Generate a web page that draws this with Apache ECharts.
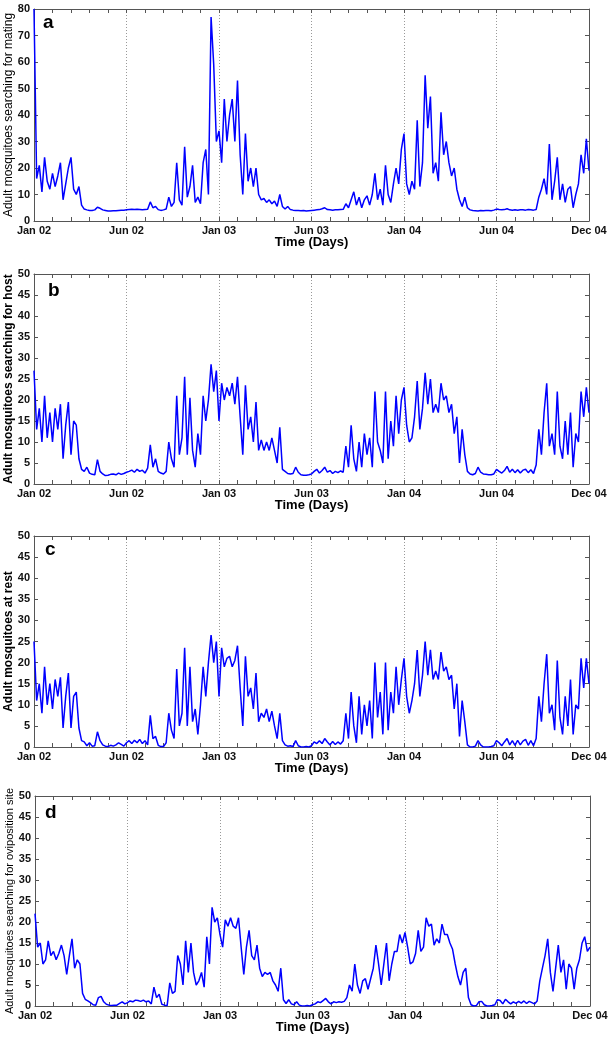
<!DOCTYPE html>
<html><head><meta charset="utf-8">
<script src="https://cdn.jsdelivr.net/npm/echarts@6/dist/echarts.min.js"></script>
<style>html,body{margin:0;padding:0;background:#fff}#c{width:612px;height:1038px}</style>
</head><body><div id="c"></div>
<script>
// sampling step in days between successive values
const STEP_DAYS = 5;
const X_MAX = 1050;
const X_INTERVAL = 175;
const xTickLabels = ['Jan 02','Jun 02','Jan 03','Jun 03','Jan 04','Jun 04','Dec 04'];

const mating = [
 80,16,21,11,24,15,12,18,13,17,22,8,14,20,24,12,10,13,6,4.5,4.2,4,4,4.2,5.2,4.8,4.2,4,3.8,3.8,3.9,3.9,4,4.1,4.1,
 4.2,4.3,4.4,4.3,4.4,4.3,4.2,4.3,4.4,7.2,5,5.5,4.3,4,4.2,4.5,9,5.5,7,22,8,6,28,9,13,21,7,9,6.5,22,27,10,77,59,30,
 34,22,46,30,40,46,30,53,25,10,33,15,20,13,20,10,8,8.5,7,8,6.5,7.5,5.5,10,5.5,4.5,5.5,4.3,4.1,4,4,3.9,4,3.8,3.9,
 4,4.1,4.2,4.3,4.6,5,4.3,4.2,4.1,4.2,4.2,4.3,4.4,6.5,5,8,11,6,9,5,8,9.5,6,10,18,8,12,6,21,10,7,14,20,14,27,
 33,14,10,15,12,38,13,22,55,35,47,18,22,15,41,25,30,22,17,20,12,8,5.5,9,5,4.2,4,3.9,3.8,4,3.9,4,4,3.9,4.1,
 4.5,4.3,4.2,4.3,4.6,4.2,4.1,4.2,4.1,4.2,4.2,4.1,4.3,4.2,4.1,4.3,9,12,16,10,29,8,15,24,8,14,7,12,13,5,10,14,25,18,31,19
];
const host = [
 27,13,18,10,21,11,17,10,18,13,19,6,14,19.5,7,15,14,6,3.5,3,4,2.6,2.3,2.2,5.8,3,2.4,2,2.1,2.3,2.4,2.2,2.6,2.3,2.5,
 2.8,3,3.3,2.8,3.5,3,3.3,2.6,3.8,9.3,4,6,3,2.6,2.4,3,10,6,4,21,7,11,25.5,7,20.5,8,4,12,7,21,15,20,28.5,22,27,
 15,24,20,23,21,24,19,25.5,16,7,23.5,13,16,10,19.5,8,10.5,8,10,8,11,8,5,13.5,3.5,3,2.5,2.4,2.5,4,2.8,2.2,2.1,2.1,2.2,
 2.4,3,3.5,2.6,3.2,4,2.8,3.2,2.5,3,2.7,3.1,2.8,9,4,14,6,3,10,4,12,7,11,4,22,10,8,5,22,6,15,9,21,12,20,
 23,14,10,11,16,24.5,13,18,26.5,19,25,17,19,17,24,20,21,17,19,12,16,5,13,7,3,2.4,2.2,2.5,4,2.8,2.4,2.3,2.2,2.2,2.4,
 3.5,3,2.6,3.2,4.2,2.8,3.5,2.7,3.4,2.6,3.3,3.5,2.7,3.4,2.5,4.5,13,7,17,24,9,12,7,22,9,6,15,7,17,4,12,10,22,16,23,17
];
const rest = [
 25,11,15,8,19,10,15,9,16,12,16.5,4.5,12,17.5,4.5,12,13,4.5,1.5,1.2,0.3,1,0.2,0.3,3.6,1.5,0.5,0.2,0.1,0.4,0.2,0.5,1,0.6,0.2,
 1,1.5,0.8,1.6,1,1.8,0.8,1.5,0.5,7.5,2,2.5,0.4,0.1,0.1,1,8,4,2,18.5,5,8,23.5,5,19,6,9,3,10,19,12,20,26.5,20,25,
 12,23.5,19,21,21.5,19,20.5,24,14,5,21.5,12,14,9,17.5,6,8,7,9,6,8.5,5,2,8,1.5,0.5,0.2,0.3,0.1,1.5,0.3,0,0,0.1,0,
 0.3,1.2,0.8,1.5,0.8,2,1.2,0.5,1.3,0.6,1.2,0.7,1.5,8,2,13,5,1,12,3,10,5,11,2,20,7,13,3,20,4,13,8,19,10,16,
 21,12,8,11,15,23,12,17,25,17,23,16,18,16,22.5,18,19,16,17,9,15,2.5,11,6,0.5,0,0,0.2,1.5,0.5,0,0,0,0.1,0.3,
 1.5,1,0.3,1.2,2,0.5,1.5,0.4,1.6,0.5,1.4,1.8,0.4,1.5,0.3,2,12,6,15,22,8,10,4,20.5,7,3,12,5,16,3,10,9,21,14,21,15
];
const oviposition = [
 22,14,15,10,11,15.5,12,13,11,12.5,14.5,12,7.5,12,16,9,11,10,3,1.6,1.2,0.8,0.3,0.2,2,2.3,1,0.4,0.2,0.1,0.2,0.2,0.6,1,0.5,
 0.8,1.2,1,1.4,1.3,1.1,1.4,1,1.2,0.5,4.5,2,2.8,0.4,0.2,0.1,5.5,3,3.5,12,10,5,15.5,8,15,8,5,6,8,4.5,16.5,10,23.5,20,21,
 17,14,20.5,19,21,19,18.5,21,14,7.5,14,18,12,11,14.5,9,7,8,7.5,8,6,5,3.5,9,1.5,0.6,1.5,0.5,0.3,1,0.2,0,0,0.1,0,
 0.3,0.5,1,0.8,1.3,1.8,1,0.5,1,0.8,1,0.9,1.1,2,5,3.5,10,5,3,6,6.5,4,6.5,9,14.5,10,5,10,15,6,10,13,13,17,15,
 17.5,14,10,10.5,12.5,18,13,14,21,19,19.5,14.5,16,15,19.5,17,17,15,13.5,10,7,5,8,9,2,0.3,0,0.1,1,1.1,0.3,0,0,0.1,0.3,
 1.5,1.3,0.5,1.6,1,0.5,1,0.6,1.1,0.7,1.2,0.6,1.1,0.8,0.5,1.2,6,9,12,16,8,3.5,9,14.5,8,11,4,10,9,4,9,11,15,16.5,13,14
];

const panels = [
  {values: mating, name: 'Adult mosquitoes searching for mating', bold: false, nameSize: 12, nameGap: 19, ymax: 80, yint: 10, letter: 'a',
   grid: {left: 34, top: 9, width: 555, height: 212}, letterPos: [43, 24]},
  {values: host, name: 'Adult mosquitoes searching for host', bold: true, nameSize: 12, nameGap: 19, ymax: 50, yint: 5, letter: 'b',
   grid: {left: 34, top: 274, width: 555, height: 210}, letterPos: [48, 292]},
  {values: rest, name: 'Adult mosquitoes at rest', bold: true, nameSize: 12, nameGap: 19, ymax: 50, yint: 5, letter: 'c',
   grid: {left: 34, top: 536, width: 555, height: 211}, letterPos: [45, 551]},
  {values: oviposition, name: 'Adult mosquitoes searching for oviposition site', bold: false, nameSize: 11, nameGap: 20, ymax: 50, yint: 5, letter: 'd',
   grid: {left: 35, top: 796, width: 555, height: 210}, letterPos: [45, 814]}
];

const AX = '#555';
const FONT = '"Liberation Sans", Arial, sans-serif';
const grids = [], xAxes = [], yAxes = [], series = [], graphics = [];

panels.forEach((p, k) => {
  grids.push(Object.assign({containLabel: false, outerBoundsMode: 'none'}, p.grid));
  const xCommon = {
    type: 'value', gridIndex: k, min: 0, max: X_MAX, interval: X_INTERVAL,
    axisLine: {show: true, onZero: false, lineStyle: {color: AX, width: 1}},
    axisTick: {show: true, inside: true, length: 4, lineStyle: {color: AX}},
    minorTick: {show: true, splitNumber: 5, length: 4, lineStyle: {color: AX}}
  };
  xAxes.push(Object.assign({}, xCommon, {
    position: 'bottom',
    splitLine: {show: true, lineStyle: {color: '#999', type: [1, 2], width: 1}},
    axisLabel: {show: true, margin: 4, fontSize: 11, fontWeight: 'bold', color: '#111', fontFamily: FONT,
      showMinLabel: true, showMaxLabel: true,
      formatter: v => xTickLabels[Math.round(v / X_INTERVAL)] || ''},
    name: 'Time (Days)', nameLocation: 'middle', nameGap: 15, nameMoveOverlap: false,
    nameTextStyle: {fontWeight: 'bold', fontSize: 13, color: '#000', fontFamily: FONT, verticalAlign: 'top'}
  }));
  xAxes.push(Object.assign({}, xCommon, {
    position: 'top', splitLine: {show: false}, axisLabel: {show: false}
  }));
  const yCommon = {
    type: 'value', gridIndex: k, min: 0, max: p.ymax, interval: p.yint,
    axisLine: {show: true, onZero: false, lineStyle: {color: AX, width: 1}},
    axisTick: {show: true, inside: true, length: 4, lineStyle: {color: AX}},
    splitLine: {show: false}
  };
  yAxes.push(Object.assign({}, yCommon, {
    position: 'left',
    axisLabel: {show: true, margin: 4, fontSize: 11, fontWeight: 'bold', color: '#111', fontFamily: FONT},
    name: p.name, nameLocation: 'middle', nameGap: p.nameGap, nameMoveOverlap: false,
    nameTextStyle: {fontWeight: p.bold ? 'bold' : 'normal', fontSize: p.nameSize, color: '#000', fontFamily: FONT}
  }));
  yAxes.push(Object.assign({}, yCommon, {position: 'right', axisLabel: {show: false}}));
  series.push({
    type: 'line', xAxisIndex: 2 * k, yAxisIndex: 2 * k,
    data: p.values.map((v, i) => [i * STEP_DAYS, v]),
    showSymbol: false, symbol: 'none', smooth: false,
    lineStyle: {color: '#0000ff', width: 1.5}, clip: true, z: 3
  });
  graphics.push({
    type: 'text', left: p.letterPos[0], top: p.letterPos[1] - 11,
    style: {text: p.letter, font: 'bold 19px ' + FONT, fill: '#000'}
  });
});

const chart = echarts.init(document.getElementById('c'), null, {renderer: 'canvas'});
chart.setOption({
  animation: false,
  backgroundColor: '#fff',
  grid: grids, xAxis: xAxes, yAxis: yAxes, series: series, graphic: graphics
});
</script></body></html>
